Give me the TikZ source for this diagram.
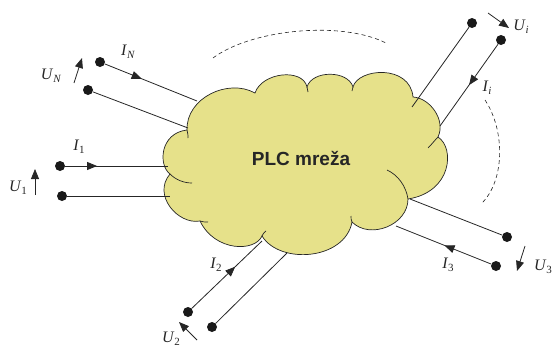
\documentclass[tikz,border=0pt]{standalone}
\usepackage{fontspec}
\setmainfont{Liberation Serif}
\newfontfamily\cloudfont{Liberation Sans}
\usetikzlibrary{arrows.meta,decorations.markings}
\definecolor{plcyellow}{RGB}{230,225,138}
\newcommand{\ulab}[2]{\textit{#1}\raisebox{-0.45ex}{\fontsize{11}{11}\selectfont #2}}

\begin{document}
\begin{tikzpicture}[x=1pt,y=-1pt,
term/.style={circle,fill=black!90,inner sep=0pt,minimum size=10pt},
wire/.style={draw=black!85,line width=0.8pt},
cloudline/.style={draw=black!85,line width=0.7pt},
curr/.style={postaction={decorate},decoration={markings,
    mark=at position #1 with {\arrow{Triangle[length=10pt,width=8pt]}}}},
volt/.style={draw=black!85,line width=0.8pt,-{Triangle[length=10pt,width=8pt]}},
lab/.style={font=\fontsize{16}{16}\selectfont,inner sep=0pt,text=black!85}]
\useasboundingbox (0,0) rectangle (553,348);

% the network
\draw[cloudline,fill=plcyellow] (187,130) .. controls (186,98) and (228,78) .. (255,93)
    .. controls (262,72) and (303,68) .. (307,87)
    .. controls (312,70) and (348,70) .. (353,87)
    .. controls (358,68) and (410,64) .. (413,97)
    .. controls (430,98) and (446,120) .. (438,137)
    .. controls (455,148) and (452,192) .. (408,199)
    .. controls (408,225) and (370,240) .. (352,222)
    .. controls (345,260) and (280,265) .. (262,236)
    .. controls (255,252) and (215,252) .. (200,221)
    .. controls (178,225) and (152,195) .. (170,174)
    .. controls (158,165) and (160,133) .. (187,130) -- cycle;
\draw[cloudline] (387,170) .. controls (398,175) and (406,186) .. (408,199);
\draw[cloudline] (428,148) .. controls (432,144) and (435,140) .. (438,137);
\draw[cloudline] (170,174) .. controls (176,180) and (184,183) .. (192,183);
\draw[cloudline] (187,130) .. controls (188,133) and (188,136) .. (188,138);
\draw[cloudline] (200,221) .. controls (202,222) and (205,222) .. (208,222);
\draw[cloudline] (262,236) .. controls (263,234) and (264,232) .. (266,231);
\draw[cloudline] (352,222) .. controls (351,220) and (351,218) .. (351,216);
\draw[cloudline] (307,87) -- (308,92);
\draw[cloudline] (353,87) -- (352,91);
\node[font=\cloudfont\bfseries\fontsize{19}{19}\selectfont,text=black!85] (plc) at (301,158) {PLC mreža};

% wire ends on the cloud
\coordinate (cNa) at (197,101);
\coordinate (cNb) at (188,128);
\coordinate (c1a) at (168,166);
\coordinate (c1b) at (170,196);
\coordinate (c2a) at (262,241);
\coordinate (c2b) at (287,253);
\coordinate (c3a) at (410,199);
\coordinate (c3b) at (396,226);
\coordinate (cia) at (412,107);
\coordinate (cib) at (440,126);

% terminals
\node[term] (tNa) at (100,62) {};
\node[term] (tNb) at (88,90) {};
\node[term] (t1a) at (60,166) {};
\node[term] (t1b) at (62,196) {};
\node[term] (t2a) at (188,312) {};
\node[term] (t2b) at (212,327) {};
\node[term] (t3a) at (507,237) {};
\node[term] (t3b) at (496,266) {};
\node[term] (tia) at (472,23) {};
\node[term] (tib) at (501,40) {};

\draw[wire,curr=0.4] (tNa) -- (cNa);
\draw[wire] (tNb) -- (cNb);
\draw[wire,curr=0.31] (t1a) -- (c1a);
\draw[wire] (t1b) -- (c1b);
\draw[wire,curr=0.62] (t2a) -- (c2a);
\draw[wire] (t2b) -- (c2b);
\draw[wire] (t3a) -- (c3a);
\draw[wire,curr=0.49] (t3b) -- (c3b);
\draw[wire] (tia) -- (cia);
\draw[wire,curr=0.5] (tib) -- (cib);

% voltage arrows
\coordinate (vNs) at (74,83);   \coordinate (vNe) at (82,58);
\coordinate (v1s) at (35,195);  \coordinate (v1e) at (35,169);
\coordinate (v2s) at (197,340); \coordinate (v2e) at (179,322);
\coordinate (v3s) at (525,246); \coordinate (v3e) at (517,271);
\coordinate (vis) at (488,13);  \coordinate (vie) at (509,28);
\draw[volt] (vNs) -- (vNe);
\draw[volt] (v1s) -- (v1e);
\draw[volt] (v2s) -- (v2e);
\draw[volt] (v3s) -- (v3e);
\draw[volt] (vis) -- (vie);

% labels
\node[lab] (lIN) at (128,52) {\ulab{I}{\textit{N}}};
\node[lab] (lUN) at (51,76) {\ulab{U}{\textit{N}}};
\node[lab] (lI1) at (79,147) {\ulab{I}{1}};
\node[lab] (lU1) at (18,188) {\ulab{U}{1}};
\node[lab] (lI2) at (216,265) {\ulab{I}{2}};
\node[lab] (lU2) at (171,339) {\ulab{U}{2}};
\node[lab] (lI3) at (448,265) {\ulab{I}{3}};
\node[lab] (lU3) at (543,267) {\ulab{U}{3}};
\node[lab] (lIi) at (487,88) {\ulab{I}{\textit{i}}};
\node[lab] (lUi) at (521,27) {\ulab{U}{\textit{i}}};

% dashed arcs
\draw[dash pattern=on 4pt off 3pt,line width=0.6pt,black!85] (213,58) .. controls (250,30) and (340,20) .. (386,43);
\draw[dash pattern=on 4pt off 3pt,line width=0.6pt,black!85] (485,100) .. controls (505,130) and (505,180) .. (482,203);
\end{tikzpicture}
\end{document}
